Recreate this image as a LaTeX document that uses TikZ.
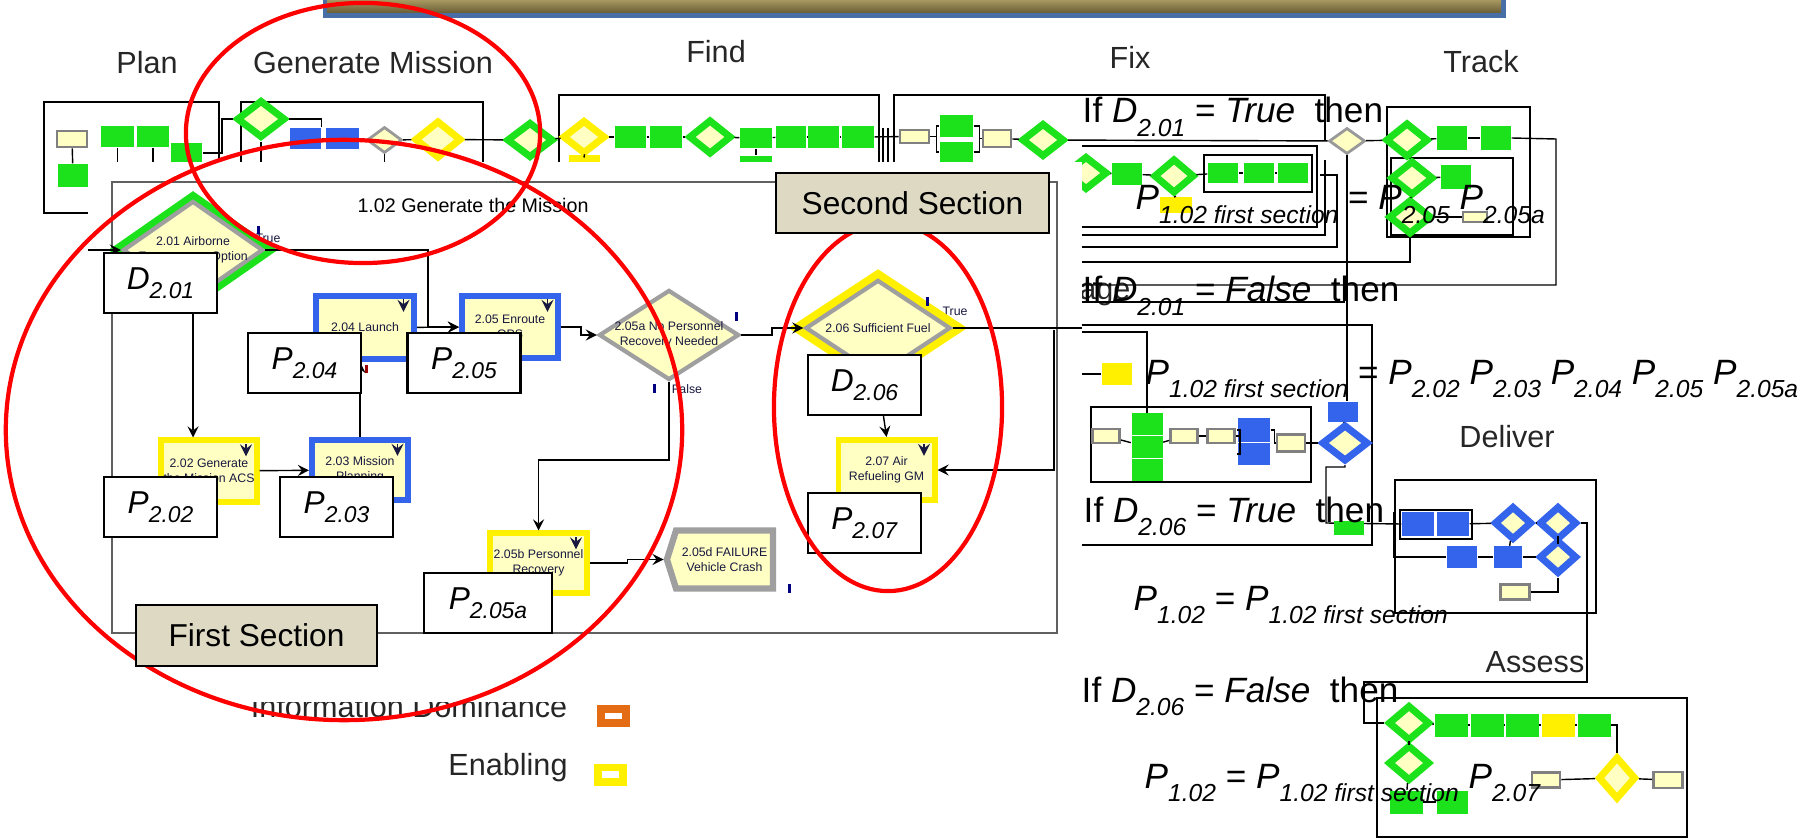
\documentclass[tikz,border=0pt]{standalone}
\usepackage{fontspec}
\setmainfont{Liberation Sans}
\usetikzlibrary{calc,shapes.geometric,shapes.symbols,arrows}

% colours of the slide
\definecolor{arenaG}{RGB}{28,226,28}
\definecolor{arenaB}{RGB}{52,100,236}
\definecolor{arenaY}{RGB}{255,240,0}
\definecolor{cream}{RGB}{255,255,196}
\definecolor{modText}{RGB}{24,24,64}
\definecolor{secTan}{RGB}{221,217,195}
\definecolor{redE}{RGB}{255,0,0}
\definecolor{bannerB}{RGB}{72,110,168}
\definecolor{bannerHi}{RGB}{168,152,96}
\definecolor{bannerLo}{RGB}{104,92,52}
\definecolor{legOrange}{RGB}{228,108,20}
\definecolor{frameGray}{RGB}{96,96,96}

\newcommand{\eqv}[2]{\textit{#1}\raisebox{-0.38em}{\fontsize{7}{8}\selectfont\textit{#2}}}
\newcommand{\boxv}[2]{\textit{#1}\raisebox{-0.28em}{\fontsize{6.5}{7}\selectfont\textit{#2}}}

\begin{document}
\begin{tikzpicture}[x=0.01cm, y=-0.01cm, >=stealth, line width=0.4pt,
    ttl/.style={font=\fontsize{8.7}{10}\selectfont, text=black!85, inner sep=0pt},
    eqn/.style={anchor=base west, inner sep=0pt, font=\fontsize{10}{12}\selectfont},
    lbl/.style={draw, line width=0.6pt, fill=white, minimum width=1.13cm,
        minimum height=0.6cm, inner sep=0pt, font=\fontsize{9}{10}\selectfont},
    sect/.style={draw, line width=0.6pt, fill=secTan, inner sep=0pt,
        font=\fontsize{9}{10}\selectfont},
    mtxt/.style={font=\fontsize{3.5}{4.3}\selectfont, text=modText, align=center, inner sep=0pt},
    pmod/.style={mtxt, rectangle, fill=cream, line width=1.7pt, minimum width=0.96cm,
        minimum height=0.61cm, path picture={\draw[-stealth, line width=0.5pt, modText]
        ([xshift=-3pt, yshift=-1pt]path picture bounding box.north east) -- ++(0,-3.5pt);}},
    bmod/.style={pmod, draw=arenaB},
    ymod/.style={pmod, draw=arenaY},
    dmod/.style={mtxt, diamond, fill=cream, draw=gray!75, line width=1.2pt,
        inner xsep=-4pt, inner ysep=0pt},
    gdmod/.style={dmod, preaction={draw=arenaG, line width=5pt}},
    ydmod/.style={dmod, preaction={draw=arenaY, line width=5.5pt}},
    xmod/.style={mtxt, signal, signal to=west, signal pointer angle=145, fill=cream,
        draw=gray!75, line width=1.8pt, minimum width=1.06cm, minimum height=0.58cm},
    gblk/.style={rectangle, fill=arenaG, minimum width=0.32cm, minimum height=0.21cm, inner sep=0pt},
    bblk/.style={gblk, fill=arenaB},
    yblk/.style={gblk, fill=arenaY},
    tblk/.style={gblk, fill=cream, draw=gray, line width=0.8pt, minimum width=0.27cm,
        minimum height=0.14cm},
    gdia/.style={diamond, fill=cream, draw=arenaG, line width=2pt, minimum width=0.43cm,
        minimum height=0.34cm, inner sep=0pt},
    bdia/.style={gdia, draw=arenaB},
    ydia/.style={gdia, draw=arenaY},
    tdia/.style={gdia, draw=gray!80, line width=0.8pt, minimum width=0.35cm, minimum height=0.26cm},
    lgsq/.style={minimum width=0.33cm, minimum height=0.22cm, inner sep=0pt,
        path picture={\fill[white] ([xshift=-2.4pt,yshift=-0.9pt]path picture bounding box.center)
        rectangle ([xshift=2.4pt,yshift=0.9pt]path picture bounding box.center);}},
    redring/.style={draw=redE, line width=1.2pt}]

\useasboundingbox (0,0) rectangle (1804,840);

% banner
\fill[bannerB] (323,0) rectangle (1506,18);
\shade[top color=bannerHi, bottom color=bannerLo] (327,0) rectangle (1501,13);

% titles of the thread
\node[ttl] (tPlan) at (147,63) {Plan};
\node[ttl] (tGen) at (373,63) {Generate Mission};
\node[ttl] (tFind) at (716,52) {Find};
\node[ttl] (tFix) at (1130,57) {Fix};
\node[ttl] (tTrack) at (1481,62) {Track};
\node[ttl] (tDeliver) at (1507,437) {Deliver};
\node[ttl] (tAssess) at (1535,662) {Assess};
\node[ttl, anchor=base east] (tEngage) at (1131,300) {Engage};

% Plan
\draw[line width=0.5pt] (44,102) rectangle (219,213);
\node[tblk, minimum width=0.30cm, minimum height=0.16cm] (pl1) at (72,139) {};
\node[gblk, minimum width=0.33cm] (pl2) at (117.5,136.5) {};
\node[gblk] (pl3) at (153,136.5) {};
\node[gblk, minimum width=0.31cm, minimum height=0.20cm] (pl4) at (186.5,153) {};
\node[gblk, minimum width=0.30cm, minimum height=0.23cm] (pl5) at (73,175.5) {};
\draw (pl1) -- (pl5);
\draw (pl2.south) -- ++(0,20);
\draw (pl3.south) -- ++(0,20);

% Generate Mission
\draw[line width=0.5pt] (241,175) |- (483,102) -- (483,175);
\node[gdia, minimum width=0.49cm, minimum height=0.38cm] (gm1) at (261,119) {};
\node[bblk, minimum width=0.31cm] (gm2) at (305.5,138.5) {};
\node[bblk, minimum width=0.33cm] (gm3) at (342.5,138.5) {};
\node[tdia] (gm4) at (384.5,140) {};
\node[ydia, minimum width=0.47cm, minimum height=0.38cm] (gm5) at (438,139.5) {};
\node[gdia, minimum width=0.47cm, minimum height=0.36cm] (gm6) at (530,140) {};
\draw (pl4.east) -| (222,119) -- (gm1.west);
\draw (gm1.east) -| (gm2.north east);
\draw (gm2) -- (gm3);
\draw (gm4) -- (gm5);
\draw (gm5) -- (gm6);
\draw (gm1.south) -- ++(0,30);
\draw (gm4.south) -- ++(0,20);
\draw (gm5.south) -- ++(0,25);

% Find
\draw[line width=0.5pt] (559,175) |- (879,95) -- (879,175);
\node[ydia] (fd1) at (584,137) {};
\node[gblk, minimum width=0.31cm, minimum height=0.22cm] (fd2) at (630.5,137) {};
\node[gblk, minimum height=0.22cm] (fd3) at (666,137) {};
\node[gdia, minimum height=0.35cm] (fd4) at (710,137) {};
\node[gblk, minimum height=0.20cm] (fd5) at (756,138) {};
\node[gblk, minimum width=0.30cm, minimum height=0.22cm] (fd6) at (791,137) {};
\node[gblk, minimum width=0.31cm, minimum height=0.22cm] (fd7) at (823.5,137) {};
\node[gblk, minimum height=0.22cm] (fd8) at (858,137) {};
\node[yblk, minimum width=0.31cm, minimum height=0.12cm] (fdy) at (584.5,161) {};
\node[gblk, minimum height=0.10cm] (fdg) at (756,161) {};
\draw (gm6) -- (fd1);
\foreach \a/\b in {fd1/fd2,fd2/fd3,fd3/fd4,fd4/fd5,fd5/fd6,fd6/fd7,fd7/fd8}
    \draw (\a) -- (\b);
\draw (fd1.south) -- (fdy.north);
\draw (fd5.south) -- (fdg.north);
\draw (883,128) -- (883,175);
\draw (888,128) -- (888,175);

% Fix
\draw[line width=0.5pt] (894,175) |- (1325,95) -- (1325,141);
\node[tblk, minimum width=0.29cm, minimum height=0.13cm] (fx1) at (914.5,136.5) {};
\node[gblk, minimum width=0.33cm, minimum height=0.22cm] (fx2) at (956.5,126) {};
\node[gblk, minimum width=0.33cm, minimum height=0.20cm] (fx3) at (956.5,152) {};
\node[tblk, minimum width=0.28cm, minimum height=0.17cm] (fx4) at (997,138.5) {};
\node[gdia] (fx5) at (1043,140) {};
\node[gdia] (fx6) at (1086,173) {};
\node[gblk, minimum width=0.30cm, minimum height=0.22cm] (fx7) at (1127,174) {};
\node[gdia, minimum width=0.41cm, minimum height=0.35cm] (fx8) at (1174,176) {};
\node[yblk, minimum height=0.16cm] (fx9) at (1176,205) {};
\draw (1204,155) rectangle (1312,192);
\node[gblk, minimum width=0.30cm, minimum height=0.20cm] (fx10) at (1223,173) {};
\node[gblk, minimum width=0.30cm, minimum height=0.20cm] (fx11) at (1259,173) {};
\node[gblk, minimum width=0.30cm, minimum height=0.20cm] (fx12) at (1293,173) {};
\draw (fd8) -- (fx1);
\draw (fx1.east) -- ++(6,0) |- (fx2.west);
\draw (fx1.east) -- ++(6,0) |- (fx3.west);
\draw (fx2.east) -- ++(6,0) |- (fx4.west);
\draw (fx3.east) -- ++(6,0) |- (fx4.west);
\draw (fx4) -- (fx5);
\foreach \a/\b in {fx6/fx7,fx7/fx8,fx8/fx10,fx10/fx11,fx11/fx12}
    \draw (\a) -- (\b);
\draw (fx8.south) -- (fx9.north);

% Track
\node[tdia, minimum width=0.36cm] (tk0) at (1347,141) {};
\draw[line width=0.5pt] (1387,107) rectangle (1530,237);
\draw (1391,158) rectangle (1513,235);
\node[gdia, minimum height=0.35cm] (tk1) at (1407,140) {};
\node[gblk, minimum width=0.30cm, minimum height=0.23cm] (tk2) at (1452,138) {};
\node[gblk, minimum width=0.30cm, minimum height=0.23cm] (tk3) at (1496,138) {};
\node[gdia, minimum height=0.35cm] (tk4) at (1412,178) {};
\node[gblk, minimum width=0.30cm, minimum height=0.23cm] (tk5) at (1456,177) {};
\node[gdia, minimum height=0.35cm] (tk6) at (1410,217) {};
\node[tblk, minimum width=0.24cm, minimum height=0.10cm] (tk7) at (1475,217) {};
\draw (fx5) -- (tk0);
\draw (tk0) -- (tk1);
\draw (tk1) -- (tk2);
\draw (tk2) -- (tk3);
\draw (tk1) -- (tk4);
\draw (tk4) -- (tk5);
\draw (tk4) -- (tk6);
\draw (tk6) -- (tk7);

% nested frames behind the equations
\draw (1082,146) -| (1317,227) -- (1082,227);
\draw (1082,235) -| (1325,160);
\draw (1082,247) -| (1337,175) -- (1320,175);
\draw (1082,262) -| (tk6.south);
\draw (tk3.east) -- (1556,139) |- (1082,285);
\draw (1082,302) -- (1345,302);
\draw[line width=0.5pt] (1082,325) -| (1372,545) -- (1082,545);

% Engage
\node[yblk, minimum width=0.30cm, minimum height=0.22cm] (en1) at (1117,374) {};
\draw (1091,407) rectangle (1311,482);
\node[tblk] (en2) at (1106,436) {};
\node[gblk, minimum width=0.31cm] (en3a) at (1147,424) {};
\node[gblk, minimum width=0.31cm] (en3b) at (1147,447) {};
\node[gblk, minimum width=0.31cm] (en3c) at (1147,470) {};
\node[tblk] (en4) at (1184,436) {};
\node[tblk] (en5) at (1221,436) {};
\node[bblk, minimum height=0.24cm] (en6) at (1254,430) {};
\node[bblk, minimum height=0.22cm] (en7) at (1254,454) {};
\node[tblk, minimum width=0.28cm, minimum height=0.17cm] (en8) at (1291,443) {};
\node[bblk, minimum width=0.30cm, minimum height=0.20cm] (bb1) at (1343,412) {};
\node[bdia, minimum width=0.47cm, minimum height=0.37cm] (bd1) at (1345,443) {};
\draw (1082,374) -- (en1);
\draw (1082,332) -| (en3a.north);
\draw (en2) -- (en3b);
\draw (en3b) -- (en4);
\draw (en4) -- (en5);
\draw (en5.east) -- ++(4,0) |- (en6.west);
\draw (en5.east) -- ++(4,0) |- (en7.west);
\draw (en6.east) -- ++(4,0) |- (en8.west);
\draw (en8) -- (bd1);
\draw (bb1) -- (bd1);
\draw (tk0.south) -- (tk0.south |- bb1.north);

% Deliver
\draw[line width=0.5pt] (1395,480) rectangle (1596,613);
\draw (1400,510) rectangle (1472,539);
\node[bblk, minimum width=0.32cm, minimum height=0.24cm] (dl1) at (1418,524) {};
\node[bblk, minimum width=0.32cm, minimum height=0.24cm] (dl2) at (1453,524) {};
\node[bdia, minimum width=0.38cm, minimum height=0.34cm] (dl3) at (1513,523) {};
\node[bdia, minimum width=0.38cm, minimum height=0.34cm] (dl4) at (1558,523) {};
\node[bdia, minimum width=0.38cm, minimum height=0.34cm] (dl5) at (1558,557) {};
\node[bblk, minimum width=0.30cm] (dl6) at (1462,557) {};
\node[bblk, minimum width=0.28cm] (dl7) at (1508,557) {};
\node[tblk, minimum width=0.29cm, minimum height=0.15cm] (dl8) at (1515,592) {};
\draw (bd1.south) |- (1326,467) -- (1326,523) -- (dl1.west);
\node[gblk, minimum width=0.30cm, minimum height=0.13cm] (en9) at (1349,528) {};
\draw (dl2) -- (dl3);
\draw (dl3) -- (dl4);
\draw (dl4) -- (dl5);
\draw (dl3) -- (dl7);
\draw (1394,512) -- (1394,557) -- (dl6.west);
\draw (dl6) -- (dl7);
\draw (dl7) -- (dl5);
\draw (dl8.east) -| (dl5.south);

% Assess
\draw[line width=0.5pt] (1377,698) rectangle (1687,837);
\node[gdia, minimum width=0.42cm, minimum height=0.36cm] (as1) at (1409,723) {};
\node[gdia, minimum width=0.42cm, minimum height=0.36cm] (as2) at (1409,763) {};
\node[gblk, minimum width=0.33cm, minimum height=0.23cm] (as3) at (1451,725) {};
\node[gblk, minimum width=0.33cm, minimum height=0.23cm] (as4) at (1487,725) {};
\node[gblk, minimum width=0.33cm, minimum height=0.23cm] (as5) at (1522,725) {};
\node[yblk, minimum width=0.33cm, minimum height=0.23cm] (as6) at (1558,725) {};
\node[gblk, minimum width=0.33cm, minimum height=0.23cm] (as7) at (1594,725) {};
\node[gblk, minimum width=0.33cm, minimum height=0.23cm] (as8) at (1406,802) {};
\node[gblk, minimum width=0.31cm, minimum height=0.23cm] (as9) at (1452,802) {};
\node[tblk, minimum width=0.28cm, minimum height=0.15cm] (as10) at (1546,780) {};
\node[ydia, minimum width=0.38cm, minimum height=0.43cm] (as11) at (1617,778) {};
\node[tblk, minimum width=0.29cm, minimum height=0.16cm] (as12) at (1668,780) {};
\draw (dl4.east) -- (1587,523) -- (1587,682) -- (1364,682) |- (as1.west);
\foreach \a/\b in {as1/as3,as3/as4,as4/as5,as5/as6,as6/as7,as1/as2,as2/as8,as8/as9,as10/as11,as11/as12}
    \draw (\a) -- (\b);
\draw (as7.east) -| (as11.north);

% legend
\node[ttl, anchor=base] (lgInfo) at (409,717) {Information Dominance};
\node[ttl, anchor=base] (lgEnab) at (508,775) {Enabling};
\node[lgsq, fill=legOrange] (lgO) at (613.5,716) {};
\node[lgsq, fill=arenaY] (lgY) at (610.5,774.5) {};

% inset of 1.02
\fill[white] (88,162) rectangle (1082,702);
\draw[frameGray, line width=0.5pt] (112,182) rectangle (1057,633);
\node[font=\fontsize{5.6}{6}\selectfont, inner sep=0pt] (ttl102) at (473,205) {1.02 Generate the Mission};

\node[mtxt] (t201) at (268,238) {True};
\node[gdmod, aspect=1.43, minimum width=1.40cm, minimum height=0.98cm] (d201) at (193,250)
    {2.01 Airborne\\Engagement Option};
\node[bmod, minimum width=0.98cm, minimum height=0.63cm] (p204) at (365,327.5) {2.04 Launch};
\node[bmod, minimum width=0.96cm, minimum height=0.62cm] (p205) at (510,327) {2.05 Enroute\\OPS};
\node[ymod, minimum width=0.95cm, minimum height=0.61cm] (p202) at (209,471) {2.02 Generate\\the Mission ACS};
\node[bmod, minimum width=0.96cm, minimum height=0.60cm] (p203) at (360,470) {2.03 Mission\\Planning};
\node[ymod, minimum width=0.96cm, minimum height=0.59cm] (p205b) at (538.5,563) {2.05b Personnel\\Recovery};
\node[dmod, aspect=1.55, minimum width=1.40cm, minimum height=0.90cm] (d205a) at (669,335)
    {2.05a No Personnel\\Recovery Needed};
\node[mtxt] (t206) at (955,311) {True};
\node[mtxt] (f205a) at (687,389) {False};
\node[ydmod, aspect=1.5, minimum width=1.45cm, minimum height=0.96cm] (d206) at (878,328)
    {2.06 Sufficient Fuel};
\node[ymod, minimum width=0.96cm, minimum height=0.60cm] (p207) at (886.5,470) {2.07 Air\\Refueling GM};
\node[xmod] (x205d) at (724.5,559.5) {2.05d FAILURE\\Vehicle Crash};

\coordinate (in201) at (88,250);
\coordinate (j205) at (428,327);
\coordinate (out206) at (1082,328);
\coordinate (ret207) at (1054,330);
\draw[->] (in201) -- (d201.west);
\draw[->] (d201.south) -- (d201.south |- p202.north);
\draw[->] (p202) -- (p203);
\draw[->] (p203.north) -- (p203.north |- p204.south);
\draw[->] (p204) -- (p205);
\draw[->] (d201.east) -| (j205) -- (p205.west);
\draw[->] (p205.east) -- ++(20,0) |- (d205a.west);
\draw[->] (d205a.east) -- ++(31,0) |- (d206.west);
\draw (d206.east) -- (out206);
\draw[->] (ret207) |- (p207.east);
\draw[->] (d206.south) -- (p207.north);
\draw[->] (d205a.south) -- ++(0,78) -| (p205b.north);
\draw[->] (p205b.east) -- ++(38,0) |- (x205d.west);

% small markers
\fill[blue!50!black] (926,297) rectangle (929,306);
\fill[blue!50!black] (735,312) rectangle (738,321);
\fill[blue!50!black] (653,384) rectangle (656,393);
\fill[blue!50!black] (788,584) rectangle (791,593);
\fill[blue!50!black] (257,226) rectangle (260,234);
\fill[red!60!black] (365,365) rectangle (368,373);

% names of the blocks
\node[lbl] (lD201) at (160.5,283) {\boxv{D}{2.01}};
\node[lbl] (lP204) at (304.5,363) {\boxv{P}{2.04}};
\node[lbl] (lP205) at (464,363) {\boxv{P}{2.05}};
\node[lbl] (lP202) at (160.5,507) {\boxv{P}{2.02}};
\node[lbl] (lP203) at (336.5,507) {\boxv{P}{2.03}};
\node[lbl, minimum width=1.28cm] (lP205a) at (488,603) {\boxv{P}{2.05a}};
\node[lbl] (lD206) at (864.5,385) {\boxv{D}{2.06}};
\node[lbl] (lP207) at (864.5,523) {\boxv{P}{2.07}};

% equations
\node[eqn] (eq1) at (1082,123) {If \eqv{D}{2.01} = \textit{True}\ \ then};
\node[eqn] (eq2) at (1135,210) {\eqv{P}{1.02 first section} = \eqv{P}{2.05} \eqv{P}{2.05a}};
\node[eqn] (eq3) at (1082,302) {If \eqv{D}{2.01} = \textit{False}\ \ then};
\node[eqn] (eq4) at (1145,384) {\eqv{P}{1.02 first section} = \eqv{P}{2.02} \eqv{P}{2.03}
    \eqv{P}{2.04} \eqv{P}{2.05} \eqv{P}{2.05a}};
\node[eqn] (eq5) at (1083,522) {If \eqv{D}{2.06} = \textit{True}\ \ then};
\node[eqn] (eq6) at (1133,610) {\eqv{P}{1.02} = \eqv{P}{1.02 first section}};
\node[eqn] (eq7) at (1081,702) {If \eqv{D}{2.06} = \textit{False}\ \ then};
\node[eqn] (eq8) at (1144,788) {\eqv{P}{1.02} = \eqv{P}{1.02 first section} \eqv{P}{2.07}};

% the rings
\draw[redring] (363,133) ellipse [x radius=1.77cm, y radius=1.30cm];
\draw[redring] (344,430) ellipse [x radius=3.38cm, y radius=2.90cm];
\draw[redring] (888,407) ellipse [x radius=1.14cm, y radius=1.84cm];

\node[sect, minimum width=2.41cm, minimum height=0.61cm] (secA) at (256.5,635.5) {First Section};
\node[sect, minimum width=2.73cm, minimum height=0.60cm] (secB) at (912.5,203) {Second Section};
\end{tikzpicture}
\end{document}
